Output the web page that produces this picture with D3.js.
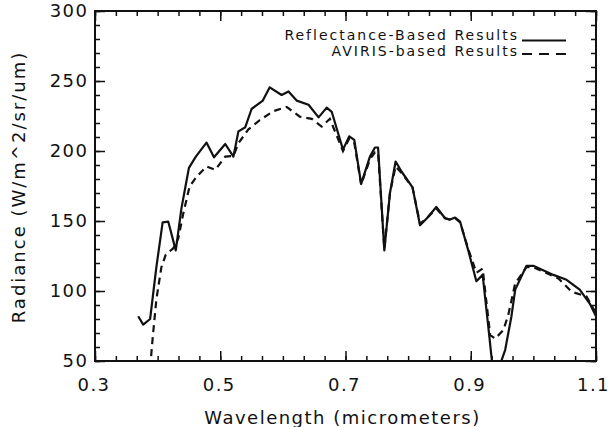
<!DOCTYPE html>
<html>
<head>
<meta charset="utf-8">
<script src="https://cdn.jsdelivr.net/npm/d3@7"></script>
<style>
  body { margin: 0; background: #fff; }
  svg { display: block; }
  text { font-family: "DejaVu Sans", sans-serif; fill: #111; }
</style>
</head>
<body>
<svg width="609" height="427"></svg>
<script>
// Reflectance-based (solid) and AVIRIS-based (dashed) radiance
var solidWl = [0.369, 0.377, 0.388, 0.398, 0.408, 0.417, 0.429, 0.438, 0.450, 0.461, 0.478, 0.490, 0.508, 0.521, 0.529, 0.540, 0.550, 0.568, 0.579, 0.598, 0.609, 0.622, 0.641, 0.657, 0.670, 0.678, 0.696, 0.706, 0.714, 0.725, 0.739, 0.747, 0.752, 0.762, 0.771, 0.780, 0.790, 0.807, 0.819, 0.830, 0.845, 0.859, 0.867, 0.875, 0.883, 0.896, 0.909, 0.919, 0.928, 0.935, 0.945, 0.955, 0.965, 0.971, 0.989, 1.000, 1.032, 1.053, 1.074, 1.090, 1.100];
var solidRad = [82, 76, 80, 117, 149, 149.5, 129, 159, 188, 196, 206, 195.5, 205, 196, 214, 217, 230, 236, 245.5, 240, 242.5, 236, 233, 224, 231, 228, 201, 210.5, 208, 176.5, 196, 202.5, 202.5, 129, 170, 192.5, 185, 174, 147, 152, 160, 152, 151, 152.5, 149.5, 129, 107, 111.5, 74.5, 45, 45, 58, 82, 101, 118, 118, 111.5, 108, 101, 91, 82];

var dashWl = [0.388, 0.392, 0.398, 0.406, 0.413, 0.425, 0.433, 0.441, 0.451, 0.462, 0.478, 0.492, 0.508, 0.521, 0.529, 0.545, 0.563, 0.585, 0.606, 0.627, 0.646, 0.662, 0.675, 0.696, 0.706, 0.714, 0.725, 0.739, 0.747, 0.752, 0.762, 0.771, 0.780, 0.790, 0.807, 0.819, 0.830, 0.845, 0.859, 0.867, 0.875, 0.883, 0.896, 0.909, 0.919, 0.931, 0.939, 0.952, 0.960, 0.971, 0.989, 1.000, 1.040, 1.061, 1.085, 1.100];
var dashRad = [45, 66, 94, 117, 126, 130.5, 137.5, 155.5, 174.5, 181.5, 189, 186.5, 196, 196.5, 205.5, 215.5, 222, 228.5, 231.5, 224.5, 223, 217.5, 223, 200, 209, 206, 176, 194, 199, 199, 130, 170, 189, 184, 174, 148, 152, 159, 152, 151, 152, 149, 130, 113, 116, 68.5, 66, 72, 83, 105.5, 117, 117, 109, 99.5, 96, 84];

var xTicks = [0.3, 0.5, 0.7, 0.9, 1.1];
var yTicks = [50, 100, 150, 200, 250, 300];
var legendLabels = ["Reflectance-Based Results", "AVIRIS-based Results"];

// plot box (window.top is read-only, so no bare "top" here)
var plotL = 95, plotR = 596, plotT = 11, plotB = 361;

var svg = d3.select("svg");

var x = d3.scaleLinear().domain([0.3, 1.1]).range([plotL, plotR]);
var y = d3.scaleLinear().domain([50, 300]).range([plotB, plotT]);

// minor tick positions
var xMinor = d3.range(0, 25).map(function(i) { return 0.3 + i * 0.2 / 6; });
var yMinor = d3.range(50, 301, 10);

function styleAxis(g) {
    g.select(".domain").remove();
    g.selectAll(".tick line").attr("stroke", "#111").attr("stroke-width", 1.5);
}

// minor ticks, all four sides
svg.append("g").attr("transform", "translate(0," + plotB + ")")
    .call(d3.axisBottom(x).tickValues(xMinor).tickSize(-5).tickFormat("")).call(styleAxis);
svg.append("g").attr("transform", "translate(0," + plotT + ")")
    .call(d3.axisTop(x).tickValues(xMinor).tickSize(-5).tickFormat("")).call(styleAxis);
svg.append("g").attr("transform", "translate(" + plotL + ",0)")
    .call(d3.axisLeft(y).tickValues(yMinor).tickSize(-5).tickFormat("")).call(styleAxis);
svg.append("g").attr("transform", "translate(" + plotR + ",0)")
    .call(d3.axisRight(y).tickValues(yMinor).tickSize(-5).tickFormat("")).call(styleAxis);

// major ticks + labels
var xAx = svg.append("g").attr("transform", "translate(0," + plotB + ")")
    .call(d3.axisBottom(x).tickValues(xTicks).tickSize(-10).tickPadding(17).tickFormat(d3.format(".1f")))
    .call(styleAxis);
svg.append("g").attr("transform", "translate(0," + plotT + ")")
    .call(d3.axisTop(x).tickValues(xTicks).tickSize(-10).tickFormat("")).call(styleAxis);
var yAx = svg.append("g").attr("transform", "translate(" + plotL + ",0)")
    .call(d3.axisLeft(y).tickValues(yTicks).tickSize(-10).tickPadding(8))
    .call(styleAxis);
svg.append("g").attr("transform", "translate(" + plotR + ",0)")
    .call(d3.axisRight(y).tickValues(yTicks).tickSize(-10).tickFormat("")).call(styleAxis);

svg.selectAll(".tick text")
    .attr("font-family", "DejaVu Sans, sans-serif")
    .attr("font-size", "18px")
    .attr("fill", "#111")
    .style("letter-spacing", "1.5px");
yAx.selectAll(".tick text").attr("dx", "1.5px");
xAx.selectAll(".tick text").attr("dx", function(d) { return d > 1 ? "-3px" : "-1.5px"; });

// frame
svg.append("rect")
    .attr("x", plotL).attr("y", plotT)
    .attr("width", plotR - plotL).attr("height", plotB - plotT)
    .attr("fill", "none").attr("stroke", "#111").attr("stroke-width", 2);

// axis titles
svg.append("text")
    .attr("x", (plotL + plotR) / 2 - 3).attr("y", 424)
    .attr("text-anchor", "middle")
    .style("font-size", "18px").style("letter-spacing", "1.5px")
    .text("Wavelength (micrometers)");

svg.append("text")
    .attr("text-anchor", "middle")
    .attr("transform", "translate(25," + ((plotT + plotB) / 2 + 1) + ")rotate(-90)")
    .style("font-size", "18px").style("letter-spacing", "2px")
    .text("Radiance (W/m^2/sr/um)");

// curves
svg.append("clipPath").attr("id", "plotclip")
    .append("rect").attr("x", plotL).attr("y", plotT)
    .attr("width", plotR - plotL).attr("height", plotB - plotT);

var line = d3.line()
    .x(function(d) { return x(d[0]); })
    .y(function(d) { return y(d[1]); });

var plot = svg.append("g").attr("clip-path", "url(#plotclip)");

plot.append("path")
    .datum(d3.zip(solidWl, solidRad))
    .attr("d", line)
    .attr("fill", "none").attr("stroke", "#111").attr("stroke-width", 2.2)
    .attr("stroke-linejoin", "round");

plot.append("path")
    .datum(d3.zip(dashWl, dashRad))
    .attr("d", line)
    .attr("fill", "none").attr("stroke", "#111").attr("stroke-width", 2.2)
    .attr("stroke-dasharray", "7,5");

// legend
var legend = svg.append("g");
legendLabels.forEach(function(label, i) {
    var ly = 39.5 + i * 16.5;
    legend.append("text")
        .attr("x", 519).attr("y", ly)
        .attr("text-anchor", "end")
        .style("font-size", "14px").style("letter-spacing", "2px")
        .text(label);
    legend.append("line")
        .attr("x1", 522).attr("x2", 566)
        .attr("y1", ly + (i ? -2 : 1)).attr("y2", ly + (i ? -2 : 1))
        .attr("stroke", "#111").attr("stroke-width", 2.2)
        .attr("stroke-dasharray", i ? "10,7" : null);
});
</script>
</body>
</html>
